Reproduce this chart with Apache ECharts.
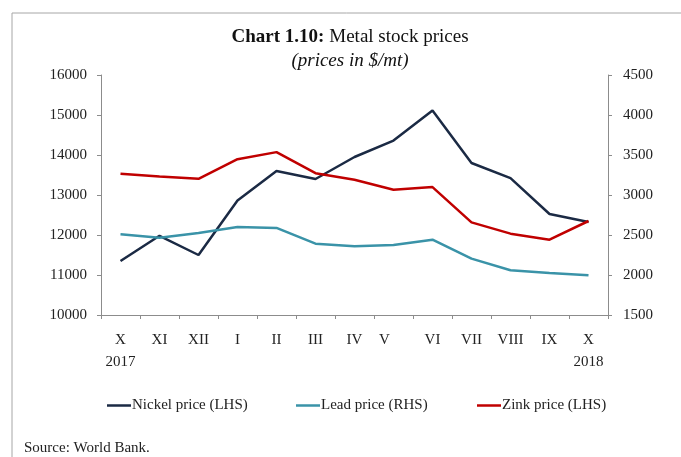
<!DOCTYPE html>
<html>
<head>
<meta charset="utf-8">
<script src="https://cdn.jsdelivr.net/npm/echarts@6/dist/echarts.min.js"></script>
<style>
html,body{margin:0;padding:0;background:#fff;}
#chart{width:681px;height:457px;}
</style>
</head>
<body>
<div id="chart"></div>
<script>
var months = ['X\n2017','XI','XII','I','II','III','IV','V','VI','VII','VIII','IX','X\n2018'];
var nickel = [11350,11980,11500,12860,13600,13400,13950,14360,15110,13800,13420,12525,12325];
var lead = [2508,2467,2525,2600,2588,2392,2358,2375,2442,2205,2059,2026,1997];
var zink = [3265,3232,3203,3448,3536,3273,3190,3066,3099,2658,2517,2442,2675];

var font = 'Liberation Serif';
var axisGray = '#8c8c8c';

var chart = echarts.init(document.getElementById('chart'));

function legendAt(x, name){
	return {
		left: x, top: 393,
		data: [name],
		icon: 'rect', itemWidth: 24, itemHeight: 2.5, itemGap: 0,
		textStyle: {fontFamily: font, fontSize: 15, color: '#222', padding: [0,0,0,-4]}
	};
}

chart.setOption({
	backgroundColor: '#fff',
	animation: false,
	title: {
		left: 345, top: 21, textAlign: 'center',
		text: '{b|Chart 1.10:} {n|Metal stock prices}\n{i|(prices in $/mt)}',
		textStyle: {
			fontWeight: 'normal',
			rich: {
				b: {fontFamily: font, fontSize: 19, fontWeight: 'bold', color: '#111', lineHeight: 23},
				n: {fontFamily: font, fontSize: 19, fontWeight: 'normal', color: '#111', lineHeight: 23},
				i: {fontFamily: font, fontSize: 19, fontWeight: 'normal', fontStyle: 'italic', color: '#111', lineHeight: 23}
			}
		}
	},
	legend: [
		legendAt(102, 'Nickel price (LHS)'),
		legendAt(291, 'Lead price (RHS)'),
		legendAt(472, 'Zink price (LHS)')
	],
	graphic: [
		{type: 'line', shape: {x1: 12, y1: 13, x2: 681, y2: 13}, style: {stroke: '#a6a6a6', lineWidth: 1}},
		{type: 'line', shape: {x1: 12, y1: 13, x2: 12, y2: 457}, style: {stroke: '#a6a6a6', lineWidth: 1}},
		{type: 'text', left: 24, top: 441, style: {text: 'Source: World Bank.', font: '15px "Liberation Serif"', fill: '#222'}}
	],
	grid: {left: 101, right: 73, top: 75, bottom: 142},
	xAxis: {
		type: 'category',
		data: months,
		boundaryGap: true,
		axisLine: {lineStyle: {color: axisGray}},
		axisTick: {show: true, length: 4, lineStyle: {color: axisGray}},
		axisLabel: {
			fontFamily: font, fontSize: 15, color: '#222', margin: 14, lineHeight: 22,
			interval: 0,
			formatter: function(v){ return v === 'V' ? '{v|V}' : v; },
			rich: {v: {fontFamily: font, fontSize: 15, color: '#222', padding: [0, 18, 0, 0]}}
		}
	},
	yAxis: [
		{
			type: 'value', min: 10000, max: 16000, interval: 1000,
			splitLine: {show: false},
			axisLine: {show: true, lineStyle: {color: axisGray}},
			axisTick: {show: true, length: 4, lineStyle: {color: axisGray}},
			axisLabel: {fontFamily: font, fontSize: 15, color: '#222', margin: 14,
				formatter: function(v){ return String(v); }}
		},
		{
			type: 'value', min: 1500, max: 4500, interval: 500,
			splitLine: {show: false},
			axisLine: {show: true, lineStyle: {color: axisGray}},
			axisTick: {show: true, length: 4, lineStyle: {color: axisGray}},
			axisLabel: {fontFamily: font, fontSize: 15, color: '#222', margin: 15,
				formatter: function(v){ return String(v); }}
		}
	],
	series: [
		{name: 'Nickel price (LHS)', type: 'line', yAxisIndex: 0, data: nickel, symbol: 'none',
			lineStyle: {color: '#1b2a44', width: 2.5}, itemStyle: {color: '#1b2a44'}},
		{name: 'Lead price (RHS)', type: 'line', yAxisIndex: 1, data: lead, symbol: 'none',
			lineStyle: {color: '#3a93a8', width: 2.5}, itemStyle: {color: '#3a93a8'}},
		{name: 'Zink price (LHS)', type: 'line', yAxisIndex: 1, data: zink, symbol: 'none',
			lineStyle: {color: '#c00000', width: 2.5}, itemStyle: {color: '#c00000'}}
	]
});
</script>
</body>
</html>
